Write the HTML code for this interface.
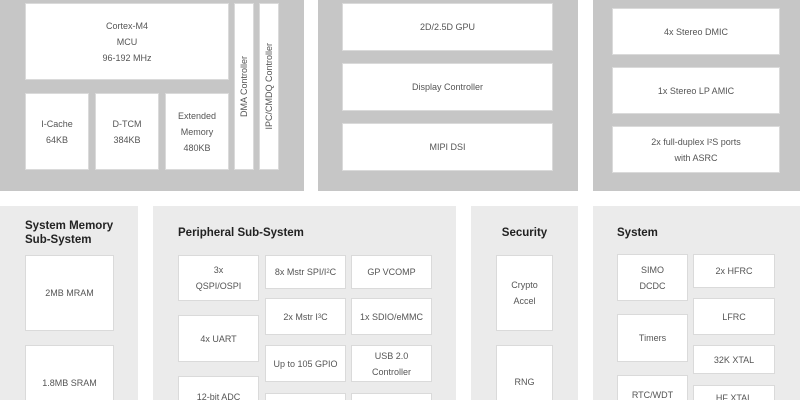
<!DOCTYPE html>
<html style="margin:0;width:800px;height:400px;overflow:hidden"><head><style>
body{margin:0;width:800px;height:400px;overflow:hidden;background:#fff;position:relative;font-family:"Liberation Sans",sans-serif;}
.c{position:absolute;left:0;top:0;width:800px;height:400px;overflow:hidden;}
div{position:absolute;box-sizing:border-box;}
.p1{background:#c6c6c6;}
.p2{background:#ebebeb;}
.b{background:#fff;border:1px solid #dadada;display:flex;align-items:center;justify-content:center;text-align:center;font-size:9px;color:#555;line-height:16px;}
.x{border-bottom:none;align-items:flex-start;}
.t{font-size:11.5px;font-weight:bold;color:#222;line-height:14px;}
.v{writing-mode:vertical-rl;transform:rotate(180deg);}
sup{font-size:6px;line-height:0;}
</style></head><body><div class="c">
<div class="p1" style="left:0;top:0;width:304px;height:191px"></div>
<div class="b" style="left:25px;top:3px;width:204px;height:77px">Cortex-M4<br>MCU<br>96-192 MHz</div>
<div class="b" style="left:25px;top:93px;width:64px;height:77px">I-Cache<br>64KB</div>
<div class="b" style="left:95px;top:93px;width:64px;height:77px">D-TCM<br>384KB</div>
<div class="b" style="left:165px;top:93px;width:64px;height:77px">Extended<br>Memory<br>480KB</div>
<div class="b" style="left:234px;top:3px;width:20px;height:167px"><span class="v">DMA Controller</span></div>
<div class="b" style="left:259px;top:3px;width:20px;height:167px"><span class="v">IPC/CMDQ Controller</span></div>

<div class="p1" style="left:318px;top:0;width:260px;height:191px"></div>
<div class="b" style="left:342px;top:3px;width:211px;height:48px">2D/2.5D GPU</div>
<div class="b" style="left:342px;top:63px;width:211px;height:48px">Display Controller</div>
<div class="b" style="left:342px;top:123px;width:211px;height:48px">MIPI DSI</div>

<div class="p1" style="left:593px;top:0;width:207px;height:191px"></div>
<div class="b" style="left:612px;top:8px;width:168px;height:47px">4x Stereo DMIC</div>
<div class="b" style="left:612px;top:67px;width:168px;height:47px">1x Stereo LP AMIC</div>
<div class="b" style="left:612px;top:126px;width:168px;height:47px">2x full-duplex I²S ports<br>with ASRC</div>

<div class="p2" style="left:0;top:206px;width:138px;height:194px"></div>
<div class="t" style="left:25px;top:219px">System Memory<br>Sub-System</div>
<div class="b" style="left:25px;top:255px;width:89px;height:76px">2MB MRAM</div>
<div class="b x" style="left:25px;top:345px;width:89px;height:55px;padding-top:29px">1.8MB SRAM</div>

<div class="p2" style="left:153px;top:206px;width:303px;height:194px"></div>
<div class="t" style="left:178px;top:226px">Peripheral Sub-System</div>
<div class="b" style="left:178px;top:255px;width:81px;height:46px">3x<br>QSPI/OSPI</div>
<div class="b" style="left:178px;top:315px;width:81px;height:47px">4x UART</div>
<div class="b x" style="left:178px;top:376px;width:81px;height:24px;padding-top:12px">12-bit ADC</div>
<div class="b" style="left:265px;top:255px;width:81px;height:34px">8x Mstr SPI/I<sup>2</sup>C</div>
<div class="b" style="left:265px;top:298px;width:81px;height:37px">2x Mstr I<sup>3</sup>C</div>
<div class="b" style="left:265px;top:345px;width:81px;height:37px">Up to 105 GPIO</div>
<div class="b x" style="left:265px;top:393px;width:81px;height:7px"></div>
<div class="b" style="left:351px;top:255px;width:81px;height:34px">GP VCOMP</div>
<div class="b" style="left:351px;top:298px;width:81px;height:37px">1x SDIO/eMMC</div>
<div class="b" style="left:351px;top:345px;width:81px;height:37px">USB 2.0<br>Controller</div>
<div class="b x" style="left:351px;top:393px;width:81px;height:7px"></div>

<div class="p2" style="left:471px;top:206px;width:107px;height:194px"></div>
<div class="t" style="left:471px;top:226px;width:107px;text-align:center">Security</div>
<div class="b" style="left:496px;top:255px;width:57px;height:76px">Crypto<br>Accel</div>
<div class="b x" style="left:496px;top:345px;width:57px;height:55px;padding-top:28px">RNG</div>

<div class="p2" style="left:593px;top:206px;width:207px;height:194px"></div>
<div class="t" style="left:617px;top:226px">System</div>
<div class="b" style="left:617px;top:254px;width:71px;height:47px">SIMO<br>DCDC</div>
<div class="b" style="left:617px;top:314px;width:71px;height:48px">Timers</div>
<div class="b x" style="left:617px;top:375px;width:71px;height:25px;padding-top:11px">RTC/WDT</div>
<div class="b" style="left:693px;top:254px;width:82px;height:34px">2x HFRC</div>
<div class="b" style="left:693px;top:298px;width:82px;height:37px">LFRC</div>
<div class="b" style="left:693px;top:345px;width:82px;height:29px">32K XTAL</div>
<div class="b x" style="left:693px;top:385px;width:82px;height:15px;padding-top:4px">HF XTAL</div>
</div></body></html>
